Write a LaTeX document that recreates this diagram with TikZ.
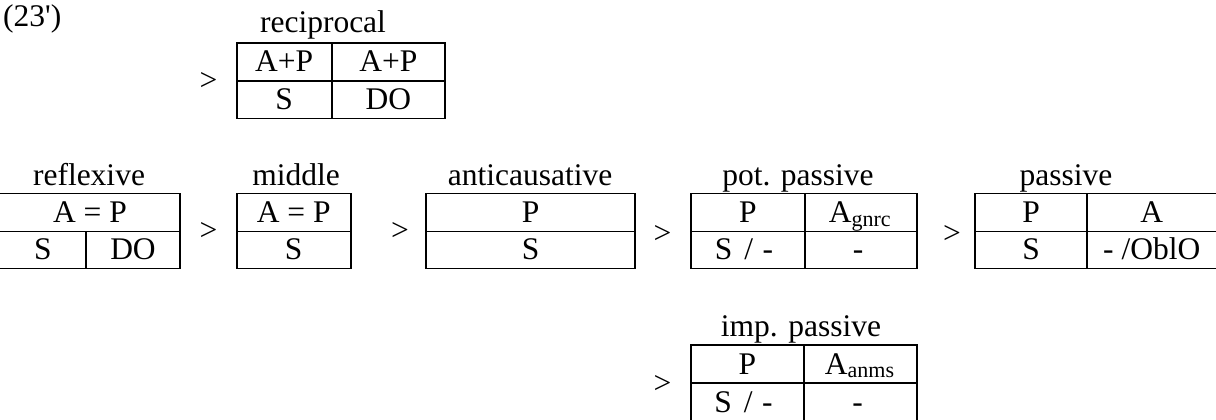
\documentclass[tikz,border=0pt]{standalone}
\usepackage{fontspec}
\setmainfont{Liberation Serif}
\begin{document}
\begin{tikzpicture}[x=1pt,y=-1pt,
  txt/.style={anchor=base,inner sep=0pt,font=\fontsize{31.5}{36}\selectfont},
  frame/.style={line width=1.9pt,line cap=rect}]
\useasboundingbox (0,0) rectangle (1216,420);
% label of the example
\node[txt,anchor=base west] (num) at (3,27) {(23\textquotesingle)};
% reciprocal
\node[txt] (reclab) at (323,33) {reciprocal};
\draw[frame] (236.7,42.7) rectangle (445,118.5);
\draw[frame] (236.7,81) -- (445,81);
\draw[frame] (331.7,42.7) -- (331.7,118.5);
\node[txt] (rec11) at (284.2,72) {A+P};
\node[txt] (rec12) at (388.3,72) {A+P};
\node[txt] (rec21) at (284.2,110) {S};
\node[txt] (rec22) at (388.3,110) {DO};
\node[txt] (gt0) at (208.5,90) {>};
% reflexive
\node[txt] (reflab) at (89,185) {reflexive};
\draw[frame] (-3,193.5) rectangle (180,268.5);
\draw[frame] (-3,231.5) -- (180,231.5);
\draw[frame] (86,231.5) -- (86,268.5);
\node[txt] (ref1) at (90,222.5) {A = P};
\node[txt] (ref21) at (43,259.5) {S};
\node[txt] (ref22) at (133,259.5) {DO};
\node[txt] (gt1) at (208.5,240) {>};
% middle
\node[txt] (midlab) at (296,185) {middle};
\draw[frame] (236.7,193.5) rectangle (350.7,268.5);
\draw[frame] (236.7,231.5) -- (350.7,231.5);
\node[txt] (mid1) at (293.7,222.5) {A = P};
\node[txt] (mid2) at (293.7,259.5) {S};
\node[txt] (gt2) at (400,240) {>};
% anticausative
\node[txt] (antlab) at (530,185) {anticausative};
\draw[frame] (426,193.5) rectangle (635.3,268.5);
\draw[frame] (426,231.5) -- (635.3,231.5);
\node[txt] (ant1) at (530.7,222.5) {P};
\node[txt] (ant2) at (530.7,259.5) {S};
\node[txt] (gt3) at (662.5,243) {>};
% potential passive
\node[txt] (potlab) at (798,185) {pot. passive};
\draw[frame] (691,193.5) rectangle (917.3,268.5);
\draw[frame] (691,231.5) -- (917.3,231.5);
\draw[frame] (805,193.5) -- (805,268.5);
\node[txt] (pot11) at (748,222.5) {P};
\node[txt] (pot12) at (860,222.5) {A\textsubscript{gnrc}};
\node[txt] (pot21) at (744,259.5) {S\hspace{0.38em}/\hspace{0.3em}-};
\node[txt] (pot22) at (858,259.5) {-};
\node[txt] (gt4) at (952,243) {>};
% passive
\node[txt] (paslab) at (1066,185) {passive};
\draw[frame] (975,193.5) rectangle (1219,268.5);
\draw[frame] (975,231.5) -- (1219,231.5);
\draw[frame] (1087,193.5) -- (1087,268.5);
\node[txt] (pas11) at (1031,222.5) {P};
\node[txt] (pas12) at (1151.7,222.5) {A};
\node[txt] (pas21) at (1031,259.5) {S};
\node[txt] (pas22) at (1151.7,259.5) {- /OblO};
% impersonal passive
\node[txt] (implab) at (801,336) {imp. passive};
\draw[frame] (690.7,345) rectangle (917.3,423);
\draw[frame] (690.7,383.3) -- (917.3,383.3);
\draw[frame] (804,345) -- (804,423);
\node[txt] (imp11) at (747.4,374) {P};
\node[txt] (imp12) at (859.7,374) {A\textsubscript{anms}};
\node[txt] (imp21) at (743.5,412) {S\hspace{0.38em}/\hspace{0.3em}-};
\node[txt] (imp22) at (857.5,412) {-};
\node[txt] (gt5) at (662.5,393) {>};
\end{tikzpicture}
\end{document}
